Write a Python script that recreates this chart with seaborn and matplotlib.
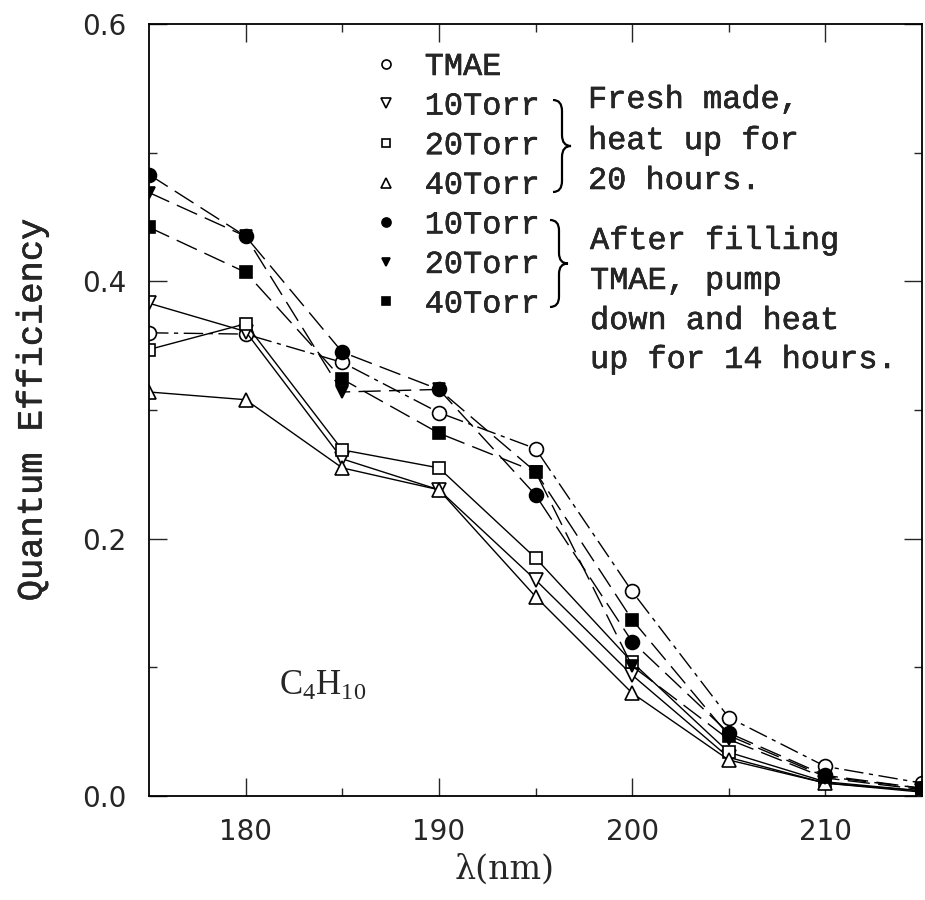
import numpy as np
import pandas as pd
import matplotlib
matplotlib.use("Agg")
import matplotlib.pyplot as plt
from matplotlib.lines import Line2D
from matplotlib.path import Path
from matplotlib.patches import PathPatch
import matplotlib.patheffects as pe
import seaborn as sns

# ---- data ----
wavelength = [175, 180, 185, 190, 195, 200, 205, 210, 215]
tmae = [0.360, 0.359, 0.337, 0.298, 0.270, 0.159, 0.061, 0.023, 0.010]
fresh_10 = [0.383, 0.361, 0.262, 0.238, 0.168, 0.094, 0.030, 0.010, 0.004]
fresh_20 = [0.347, 0.367, 0.269, 0.255, 0.185, 0.104, 0.034, 0.011, 0.004]
fresh_40 = [0.314, 0.308, 0.255, 0.238, 0.155, 0.080, 0.028, 0.010, 0.003]
after_10 = [0.483, 0.435, 0.345, 0.316, 0.234, 0.120, 0.049, 0.016, 0.006]
after_20 = [0.469, 0.435, 0.314, 0.316, 0.252, 0.101, 0.044, 0.014, 0.005]
after_40 = [0.442, 0.407, 0.324, 0.282, 0.252, 0.137, 0.047, 0.015, 0.006]
labels = ["TMAE", "10Torr", "20Torr", "40Torr", "10Torr", "20Torr", "40Torr"]
x_ticks = [180, 190, 200, 210]
y_ticks = [0.0, 0.2, 0.4, 0.6]

sns.set_style("ticks")
plt.rcParams["font.family"] = ["DejaVu Sans"]
MONO = ["Liberation Mono", "DejaVu Sans Mono"]
THICK = [pe.withStroke(linewidth=0.35, foreground="black")]

W, H = 925, 900
fig, ax = plt.subplots(figsize=(W / 100, H / 100), dpi=100)
fig.subplots_adjust(left=149 / W, right=922 / W, bottom=1 - 796 / H, top=1 - 24 / H)

styles = [
    dict(marker="o", mfc="white", ls=(0, (14, 4, 3, 4)), ms=10),
    dict(marker="v", mfc="white", ls="-", ms=10),
    dict(marker="s", mfc="white", ls="-", ms=9),
    dict(marker="^", mfc="white", ls="-", ms=10),
    dict(marker="o", mfc="black", ls=(0, (16, 6)), ms=10),
    dict(marker="v", mfc="black", ls=(0, (16, 6)), ms=9),
    dict(marker="s", mfc="black", ls=(0, (16, 6)), ms=8),
]
series = [tmae, fresh_10, fresh_20, fresh_40, after_10, after_20, after_40]

handles = []
for vals, st, lab in zip(series, styles, labels):
    sns.lineplot(x=wavelength, y=vals, ax=ax, color="black", lw=1.0,
                 linestyle=st["ls"], marker=st["marker"], markersize=st["ms"],
                 markerfacecolor=st["mfc"], markeredgecolor="black",
                 markeredgewidth=1.2)
    handles.append(Line2D([], [], color="black", ls="none", marker=st["marker"],
                          markersize=st["ms"] * 0.65, markerfacecolor=st["mfc"],
                          markeredgecolor="black", markeredgewidth=1.2, label=lab))

ax.set_xlim(175, 215)
ax.set_ylim(0, 0.6)
ax.set_xticks(x_ticks)
ax.set_xticks([185, 195, 205], minor=True)
ax.set_yticks(y_ticks)
ax.set_yticks([0.1, 0.3, 0.5], minor=True)
ax.set_yticklabels([f"{v:.1f}" for v in y_ticks])
ax.tick_params(which="both", direction="in", top=True, right=True, width=1.0,
               labelsize=20)
ax.tick_params(axis="x", which="major", pad=16)
ax.tick_params(axis="y", which="major", pad=16)
ax.tick_params(which="major", length=13)
ax.tick_params(which="minor", length=6)
for sp in ax.spines.values():
    sp.set_linewidth(1.3)
    sp.set_color("black")

ax.set_xlabel("λ(nm)", fontsize=24, family=["DejaVu Serif"])
ax.xaxis.set_label_coords((505 - 149) / 773, -(870 - 796) / 772)
ax.xaxis.label.set_va("center")
ax.set_ylabel("Quantum Efficiency", fontsize=25.5, family=MONO,
              path_effects=THICK)
ax.yaxis.set_label_coords(-(149 - 32) / 773, 0.5)
ax.yaxis.label.set_va("center")

leg = ax.legend(handles=handles, loc="upper left",
                bbox_to_anchor=((372 - 149) / 773, (796 - 52) / 772),
                frameon=False, prop={"family": MONO, "size": 23},
                handlelength=0.9, handletextpad=0.75, labelspacing=0.3,
                borderpad=0, borderaxespad=0)
for t in leg.get_texts():
    t.set_path_effects(THICK)

def px(xp, yp):
    return xp / W, 1 - yp / H

tf = fig.transFigure
for yy, s in zip([100, 141, 181], ["Fresh made,", "heat up for", "20 hours."]):
    fig.text(*px(588, yy), s, family=MONO, fontsize=23, va="center", ha="left",
             path_effects=THICK)
for yy, s in zip([241, 281, 321, 360], ["After filling", "TMAE, pump",
                                         "down and heat", "up for 14 hours."]):
    fig.text(*px(590, yy), s, family=MONO, fontsize=23, va="center", ha="left",
             path_effects=THICK)

def brace(x0, yt, yb, w):
    ym = (yt + yb) / 2
    r = (yb - yt) * 0.12
    xm = x0 + w / 2
    pts = [(x0, yt), (xm, yt), (xm, yt + r), (xm, ym - r), (xm, ym), (x0 + w, ym),
           (xm, ym), (xm, ym + r), (xm, yb - r), (xm, yb), (x0, yb)]
    codes = [Path.MOVETO, Path.CURVE3, Path.CURVE3, Path.LINETO, Path.CURVE3,
             Path.CURVE3, Path.CURVE3, Path.CURVE3, Path.LINETO, Path.CURVE3,
             Path.CURVE3]
    verts = [px(a, b) for a, b in pts]
    fig.patches.append(PathPatch(Path(verts, codes), transform=tf, fill=False,
                                 lw=1.6, color="black"))

brace(553, 100, 192, 18)
brace(550, 220, 307, 18)

ax.text(175 + (279 - 149) / 19.33, 0.085, r"$\mathregular{C_4H_{10}}$",
        fontsize=25, family=["Liberation Serif"], ha="left", va="center")

fig.savefig("out.png", dpi=100)
